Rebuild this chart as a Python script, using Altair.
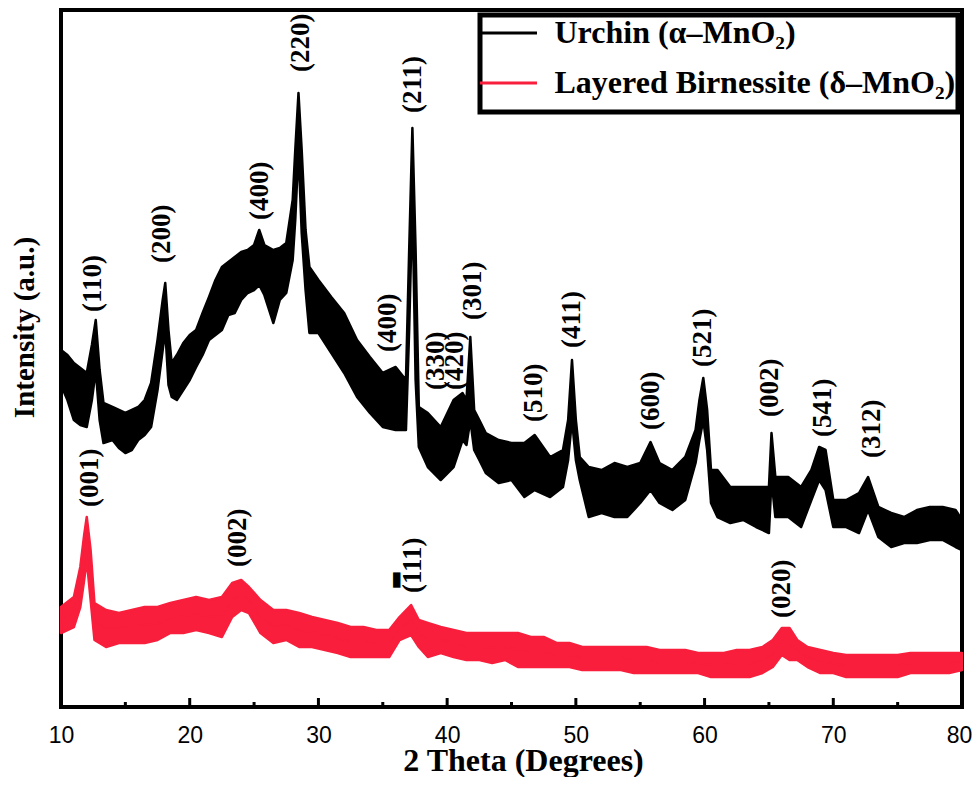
import altair as alt
import pandas as pd

# ---------------- data ----------------
# Urchin (alpha-MnO2): 2-theta, upper / lower envelope of the noisy trace (a.u.)
u_x = [10.0, 10.5, 11.0, 11.5, 12.0, 12.4, 12.7, 13.0, 13.3, 14.0, 14.5, 15.0, 15.5, 16.0,
       16.5, 17.0, 17.5, 17.9, 18.1, 18.35, 18.6, 19.0, 19.5, 20.0, 20.5, 21.0, 21.5, 22.0,
       22.5, 23.0, 23.5, 24.0, 24.5, 25.0, 25.4, 25.8, 26.5, 27.0, 27.5, 28.0, 28.2, 28.45,
       28.7, 29.0, 29.3, 30.0, 31.0, 32.0, 33.0, 34.0, 35.0, 36.0, 36.8, 37.05, 37.3, 37.55,
       37.8, 38.5, 39.5, 40.5, 41.2, 41.5, 41.8, 42.1, 42.5, 43.0, 44.0, 45.0, 46.0, 46.8,
       48.0, 49.0, 49.4, 49.7, 50.0, 50.3, 51.0, 52.0, 53.0, 54.0, 55.0, 55.8, 56.5, 57.5,
       58.5, 59.3, 59.6, 59.9, 60.2, 60.5, 61.0, 62.0, 63.0, 64.0, 65.0, 65.2, 65.5, 66.5,
       67.5, 68.3, 68.9, 69.4, 70.0, 71.0, 72.0, 72.7, 73.5, 74.5, 75.5, 76.5, 77.5, 78.5,
       79.5, 80.0]
u_hi = [357, 352, 344, 339, 334, 362, 387, 337, 304, 300, 297, 294, 297, 300,
        307, 324, 367, 407, 424, 377, 344, 352, 364, 372, 377, 394, 410, 427,
        440, 445, 450, 455, 457, 462, 477, 462, 457, 459, 464, 507, 557, 614,
        557, 477, 440, 427, 410, 394, 367, 350, 334, 340, 327, 457, 579, 457,
        300, 294, 280, 307, 314, 307, 370, 297, 287, 274, 267, 264, 264, 272,
        250, 257, 287, 347, 287, 250, 240, 237, 244, 240, 244, 265, 244, 237,
        250, 277, 307, 329, 297, 237, 237, 220, 220, 220, 220, 274, 230, 230,
        220, 237, 260, 257, 207, 207, 214, 230, 200, 194, 190, 197, 200, 200,
        197, 187]
u_lo = [322, 307, 287, 282, 280, 307, 337, 287, 264, 267, 259, 254, 257, 267,
        272, 280, 317, 357, 377, 322, 310, 307, 317, 327, 340, 352, 367, 372,
        377, 392, 394, 407, 414, 417, 422, 412, 384, 407, 414, 447, 487, 557,
        474, 417, 374, 374, 354, 334, 310, 294, 280, 277, 277, 377, 507, 327,
        260, 240, 227, 240, 267, 262, 287, 257, 247, 234, 224, 227, 210, 217,
        210, 220, 247, 287, 247, 227, 190, 194, 190, 190, 204, 217, 204, 197,
        207, 244, 267, 287, 257, 204, 190, 184, 187, 180, 174, 227, 190, 190,
        180, 207, 227, 217, 180, 180, 174, 197, 170, 160, 164, 164, 167, 167,
        160, 157]

# Layered Birnessite (delta-MnO2)
b_x = [10.0, 11.0, 11.5, 11.8, 12.0, 12.3, 12.6, 13.5, 14.5, 15.5, 16.5, 17.5, 18.5, 19.5,
       20.5, 21.5, 22.5, 23.3, 24.0, 24.6, 25.5, 26.5, 27.5, 28.5, 29.5, 30.5, 31.5, 32.5,
       33.5, 34.5, 35.5, 36.3, 37.2, 37.8, 38.5, 39.5, 40.5, 41.5, 42.5, 43.5, 44.5, 45.5,
       46.5, 47.5, 48.5, 49.5, 50.5, 51.5, 52.5, 53.5, 54.5, 55.5, 56.5, 57.5, 58.5, 59.5,
       60.5, 61.5, 62.5, 63.5, 64.5, 65.3, 66.0, 66.6, 67.2, 68.0, 69.0, 70.0, 71.0, 72.0,
       73.0, 74.0, 75.0, 76.0, 77.0, 78.0, 79.0, 80.0]
b_hi = [100, 110, 140, 172, 190, 157, 104, 97, 94, 97, 100, 100, 104, 107,
        110, 107, 110, 124, 127, 120, 107, 97, 97, 94, 90, 87, 84, 80,
        80, 77, 77, 90, 102, 87, 84, 80, 77, 74, 74, 74, 74, 74,
        70, 70, 64, 64, 60, 60, 60, 60, 60, 60, 57, 57, 57, 54,
        54, 54, 57, 57, 60, 67, 79, 79, 67, 60, 57, 54, 52, 52,
        52, 52, 52, 54, 54, 54, 54, 54]
b_lo = [74, 80, 100, 127, 147, 107, 67, 60, 64, 64, 64, 67, 74, 74,
        77, 74, 70, 90, 97, 94, 74, 64, 67, 60, 60, 57, 54, 50,
        50, 50, 50, 67, 72, 60, 50, 54, 50, 47, 47, 44, 47, 40,
        40, 40, 40, 40, 37, 37, 37, 37, 34, 34, 34, 34, 34, 34,
        30, 30, 30, 30, 34, 40, 52, 47, 47, 40, 34, 34, 30, 30,
        30, 30, 30, 34, 34, 34, 34, 37]

series_names = ["Urchin (α–MnO₂)", "Layered Birnessite (δ–MnO₂)"]
series_colors = ["#000000", "#f81e3c"]

# peak (hkl) annotations: text, 2-theta, intensity where the label starts
peak_text = ["(110)", "(200)", "(400)", "(220)", "(400)", "(211)", "(330)", "(420)",
             "(301)", "(510)", "(411)", "(600)", "(521)", "(002)", "(541)", "(312)",
             "(001)", "(002)", "(111)", "(020)"]
peak_x = [12.48, 17.84, 25.45, 28.63, 35.39, 37.33, 39.12, 40.59,
          41.99, 46.73, 49.68, 55.81, 59.85, 65.05, 69.17, 72.97,
          12.25, 23.74, 37.33, 65.98]
peak_y = [395, 444, 487, 635, 355, 594, 317, 317,
          387, 285, 359, 277, 340, 290, 270, 249,
          200, 140, 114, 89]
# bar over the first index of (111)
bar_x = [36.0]
bar_y = [127]

major_ticks = [10, 20, 30, 40, 50, 60, 70, 80]
minor_ticks = [15, 25, 35, 45, 55, 65, 75]

# ---------------- tables ----------------
df_u = pd.DataFrame({"x": u_x, "hi": u_hi, "lo": u_lo, "series": series_names[0]})
df_b = pd.DataFrame({"x": b_x, "hi": b_hi, "lo": b_lo, "series": series_names[1]})
for d in (df_u, df_b):
    d["mid"] = (d["hi"] + d["lo"]) / 2
df_all = pd.concat([df_u, df_b], ignore_index=True)

df_peaks = pd.DataFrame({"x": peak_x, "y": peak_y, "t": peak_text})
df_bar = pd.DataFrame({"x": bar_x, "y": bar_y, "t": ["▬"]})
df_major = pd.DataFrame({"x": major_ticks})
df_minor = pd.DataFrame({"x": minor_ticks})

W, H = 901, 697
SERIF = "Liberation Serif"

xscale = alt.Scale(domain=[10, 80], nice=False, zero=False)
yscale = alt.Scale(domain=[0, 697], nice=False, zero=False)
cscale = alt.Scale(domain=series_names, range=series_colors)

x_enc = alt.X("x:Q", scale=xscale, axis=alt.Axis(
    values=major_ticks, format="d", ticks=False, tickSize=0, domain=False, grid=False,
    labelFont="Liberation Sans", labelFontSize=23, labelColor="black", labelPadding=17,
    labelFlush=False, labelOverlap=False,
    labelOffset={"condition": {"test": "datum.value === 80", "value": -3}, "value": 0},
    title="2 Theta (Degrees)", titleFont=SERIF, titleFontSize=32, titleFontWeight="bold",
    titleColor="black", titleX=462, titleY=63, titleBaseline="alphabetic"))
y_enc = alt.Y("hi:Q", scale=yscale, axis=alt.Axis(
    labels=False, ticks=False, domain=False, grid=False,
    title="Intensity (a.u.)", titleFont=SERIF, titleFontSize=29,
    titleFontWeight="bold", titleColor="black", titleX=-28, titleY=317,
    titleBaseline="alphabetic", titleAngle=270))


def band(d, col):
    return alt.Chart(d).mark_area(color=col, opacity=1, stroke=col, strokeWidth=2.5,
                                  strokeJoin="round").encode(
        x=x_enc, y=y_enc, y2="lo:Q")


band_u = band(df_u, series_colors[0])
band_b = band(df_b, series_colors[1])

lines = alt.Chart(df_all).mark_line(strokeWidth=2).encode(
    x="x:Q",
    y="mid:Q",
    color=alt.Color("series:N", scale=cscale, sort=series_names,
                    legend=alt.Legend(title=" ", titleOrient="bottom", titleFontSize=9,
                                      titlePadding=2, orient="none", legendX=419,
                                      legendY=5, symbolType="M-2,0H2", symbolSize=812,
                                      symbolStrokeWidth=3, symbolOffset=10.5,
                                      labelOffset=30, padding=2, rowPadding=18)),
    detail="series:N",
)

labels = alt.Chart(df_peaks).mark_text(
    angle=270, align="left", baseline="middle", font=SERIF, fontWeight="bold",
    fontSize=27, color="black").encode(x="x:Q", y="y:Q", text="t:N")

bar = alt.Chart(df_bar).mark_text(
    angle=270, align="center", baseline="middle", font="DejaVu Sans", fontSize=20,
    color="black").encode(x="x:Q", y="y:Q", text="t:N")

major = alt.Chart(df_major).mark_rule(color="black", strokeWidth=3).encode(
    x="x:Q", y=alt.value(H), y2=alt.value(H - 9))
minor = alt.Chart(df_minor).mark_rule(color="black", strokeWidth=3).encode(
    x="x:Q", y=alt.value(H), y2=alt.value(H - 5))

chart = alt.layer(band_u, band_b, lines, labels, bar, major, minor).properties(
    width=W, height=H,
    autosize=alt.AutoSizeParams(type="none"),
    padding={"left": 53, "top": 2, "right": 10, "bottom": 70},
    background="white",
).configure_view(
    stroke="black", strokeWidth=4
).configure_legend(
    strokeColor="black", strokeWidth=5,
    labelFont=SERIF, labelFontWeight="bold", labelFontSize=32, labelColor="black",
    labelLimit=600, fillColor="white"
)

chart.save("out.html", embed_options={"renderer": "svg", "actions": False})
